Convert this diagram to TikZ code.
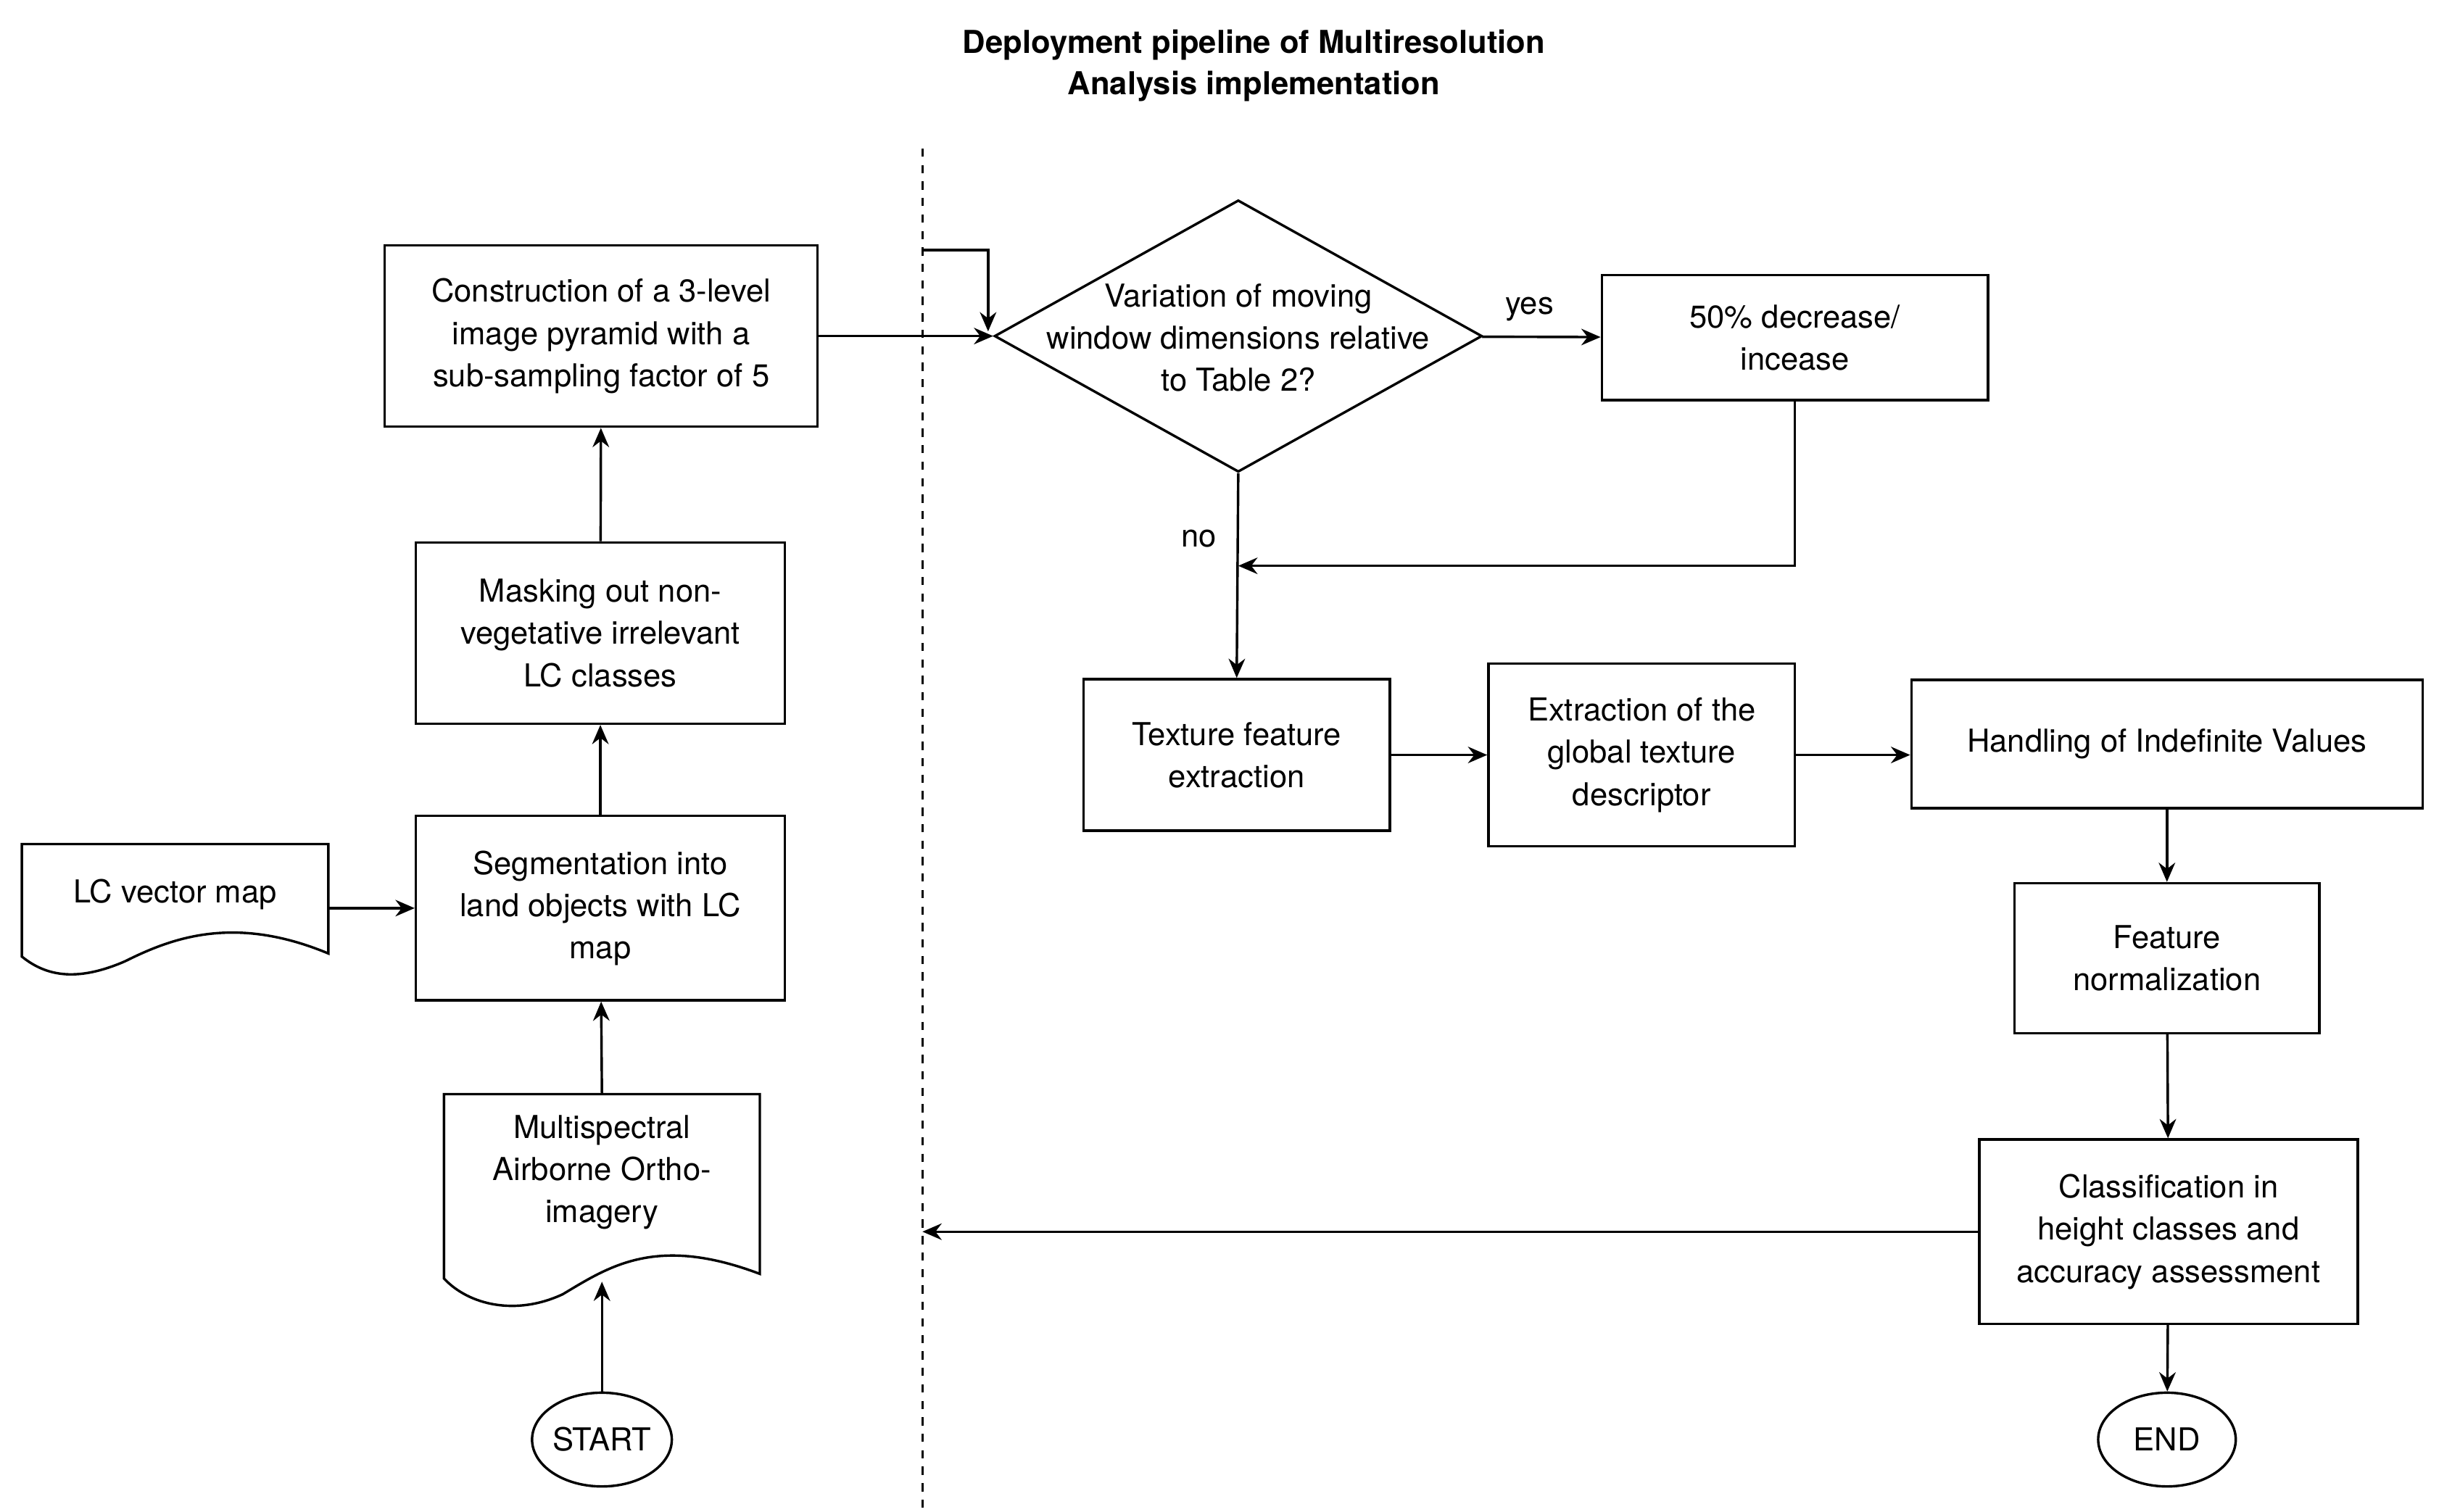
\documentclass[tikz,border=0pt]{standalone}
\usepackage{fontspec}
\setmainfont{TeX Gyre Heros}
\usetikzlibrary{shapes.geometric,arrows.meta}
\begin{document}
\begin{tikzpicture}[x=0.02cm,y=-0.02cm,
  every node/.style={font=\fontsize{11.5}{15.4}\selectfont,align=center},
  box/.style={draw,line width=0.9pt,inner sep=2pt},
  conn/.style={line width=0.9pt,-{Stealth[length=7pt,width=6pt]}},
  lw/.style={line width=0.9pt}]
\useasboundingbox (0,0) rectangle (1560,967);
\node[font=\fontsize{11.5}{15}\selectfont\bfseries] (title) at (802,42) {Deployment pipeline of Multiresolution\\Analysis implementation};
\coordinate (dtop) at (590,95);
\coordinate (dbot) at (590,967);
\draw[lw,dashed] (dtop) -- (dbot);
% left column
\node[box,minimum width=5.54cm,minimum height=2.32cm] (constr) at (384.5,215) {Construction of a 3-level\\image pyramid with a\\sub-sampling factor of 5};
\node[box,minimum width=4.72cm,minimum height=2.32cm] (mask) at (384,405) {Masking out non-\\vegetative irrelevant\\LC classes};
\node[box,minimum width=4.72cm,minimum height=2.36cm] (seg) at (384,581) {Segmentation into\\land objects with LC\\map};
\draw[lw] (14,540) -- (210,540) -- (210,610) .. controls (150,585) and (110,600) .. (80,615) .. controls (50,628) and (30,625) .. (14,612) -- cycle;
\node (lc) at (112,572) {LC vector map};
\coordinate (lcr) at (210,581);
\draw[lw] (284,700) -- (486,700) -- (486,815) .. controls (420,790) and (390,810) .. (360,828) .. controls (330,842) and (300,835) .. (284,818) -- cycle;
\node (ms) at (385,750) {Multispectral\\Airborne Ortho-\\imagery};
\coordinate (msb) at (385,820);
\coordinate (mst) at (385,700);
\node[draw,lw,ellipse,minimum width=1.76cm,minimum height=1.2cm,inner sep=0pt] (start) at (385,921) {START};
% right
\node[draw,lw,diamond,aspect=1.8,minimum width=6.24cm,minimum height=3.48cm,inner sep=0pt] (dia) at (792,215) {};
\node at (792,216) {Variation of moving\\window dimensions relative\\to Table 2?};
\node[box,minimum width=4.94cm,minimum height=1.6cm] (dec) at (1148,216) {50\% decrease/\\incease};
\node[box,minimum width=3.92cm,minimum height=1.94cm] (tex) at (791,483) {Texture feature\\extraction};
\node[box,minimum width=3.92cm,minimum height=2.34cm] (ext) at (1050,483) {Extraction of the\\global texture\\descriptor};
\node[box,minimum width=6.54cm,minimum height=1.64cm] (hand) at (1386,476) {Handling of Indefinite Values};
\node[box,minimum width=3.9cm,minimum height=1.92cm] (norm) at (1386,613) {Feature\\normalization};
\node[box,minimum width=4.84cm,minimum height=2.36cm] (cls) at (1387,788) {Classification in\\height classes and\\accuracy assessment};
\node[draw,lw,ellipse,minimum width=1.76cm,minimum height=1.2cm,inner sep=0pt] (end) at (1386,921) {END};
% connectors
\draw[conn] (start) -- (msb);
\draw[conn] (mst) -- (seg);
\draw[conn] (lcr) -- (seg);
\draw[conn] (seg) -- (mask);
\draw[conn] (mask) -- (constr);
\draw[conn] (constr) -- (dia.west);
\coordinate (dl) at (590,160);
\draw[conn] (dl) -- (632,160) -- (632,212);
\draw[conn] (dia) -- node[above,pos=0.4,yshift=2pt]{yes} (dec);
\draw[conn] (dia.south) -- node[left,pos=0.32,xshift=-4pt]{no} (tex.north);
\draw[conn] (dec.south) -- (1148,362) -- (792,362);
\draw[conn] (tex) -- (ext);
\draw[conn] (ext.east) -- (hand.west|-ext.east);
\draw[conn] (hand) -- (norm);
\draw[conn] (norm) -- (cls);
\draw[conn] (cls) -- (end);
\coordinate (dr) at (590,788);
\draw[conn] (cls) -- (dr);
\end{tikzpicture}
\end{document}
